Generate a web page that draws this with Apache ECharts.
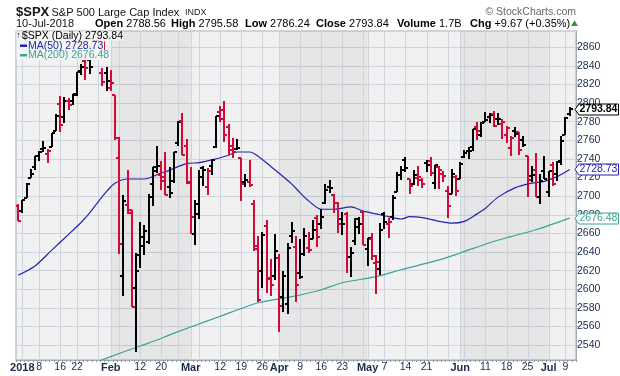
<!DOCTYPE html>
<html>
<head>
<meta charset="utf-8">
<script src="https://cdn.jsdelivr.net/npm/echarts@6/dist/echarts.min.js"></script>
<style>
  html, body { margin: 0; padding: 0; background: #fff; }
  #chart { width: 620px; height: 376px; }
</style>
</head>
<body>
<div id="chart"></div>
<script>
// 日线数据 $SPX 2017-12-29 ~ 2018-07-10
const dates = [
  '2017-12-29','2018-01-02','2018-01-03','2018-01-04','2018-01-05','2018-01-08','2018-01-09','2018-01-10','2018-01-11','2018-01-12',
  '2018-01-16','2018-01-17','2018-01-18','2018-01-19','2018-01-22','2018-01-23','2018-01-24','2018-01-25','2018-01-26','2018-01-29',
  '2018-01-30','2018-01-31','2018-02-01','2018-02-02','2018-02-05','2018-02-06','2018-02-07','2018-02-08','2018-02-09','2018-02-12',
  '2018-02-13','2018-02-14','2018-02-15','2018-02-16','2018-02-20','2018-02-21','2018-02-22','2018-02-23','2018-02-26','2018-02-27',
  '2018-02-28','2018-03-01','2018-03-02','2018-03-05','2018-03-06','2018-03-07','2018-03-08','2018-03-09','2018-03-12','2018-03-13',
  '2018-03-14','2018-03-15','2018-03-16','2018-03-19','2018-03-20','2018-03-21','2018-03-22','2018-03-23','2018-03-26','2018-03-27',
  '2018-03-28','2018-03-29','2018-04-02','2018-04-03','2018-04-04','2018-04-05','2018-04-06','2018-04-09','2018-04-10','2018-04-11',
  '2018-04-12','2018-04-13','2018-04-16','2018-04-17','2018-04-18','2018-04-19','2018-04-20','2018-04-23','2018-04-24','2018-04-25',
  '2018-04-26','2018-04-27','2018-04-30','2018-05-01','2018-05-02','2018-05-03','2018-05-04','2018-05-07','2018-05-08','2018-05-09',
  '2018-05-10','2018-05-11','2018-05-14','2018-05-15','2018-05-16','2018-05-17','2018-05-18','2018-05-21','2018-05-22','2018-05-23',
  '2018-05-24','2018-05-25','2018-05-29','2018-05-30','2018-05-31','2018-06-01','2018-06-04','2018-06-05','2018-06-06','2018-06-07',
  '2018-06-08','2018-06-11','2018-06-12','2018-06-13','2018-06-14','2018-06-15','2018-06-18','2018-06-19','2018-06-20','2018-06-21',
  '2018-06-22','2018-06-25','2018-06-26','2018-06-27','2018-06-28','2018-06-29','2018-07-02','2018-07-03','2018-07-05','2018-07-06',
  '2018-07-09','2018-07-10'
];
const opens = [
  2689.15,2683.73,2697.85,2719.31,2731.33,2742.67,2751.15,2745.55,2752.97,2770.18,
  2798.96,2784.99,2802.40,2802.60,2809.16,2835.05,2845.42,2846.24,2847.48,2867.23,
  2832.74,2832.41,2816.45,2808.92,2741.06,2614.78,2690.95,2685.01,2601.78,2636.75,
  2646.27,2651.21,2713.46,2727.14,2722.99,2720.53,2710.42,2715.80,2757.37,2780.45,
  2753.78,2715.22,2658.89,2681.06,2730.18,2710.18,2732.75,2752.91,2790.54,2792.31,
  2774.06,2754.27,2750.57,2741.38,2715.05,2714.99,2691.36,2646.71,2619.35,2667.57,
  2611.30,2614.41,2633.45,2592.17,2584.04,2657.36,2645.82,2617.18,2638.41,2643.89,
  2653.83,2676.90,2670.10,2692.74,2710.11,2701.16,2692.56,2675.40,2680.80,2634.92,
  2651.65,2675.47,2682.51,2642.96,2654.24,2628.08,2621.45,2680.34,2670.26,2678.12,
  2705.02,2722.70,2738.47,2718.59,2712.62,2719.71,2717.35,2735.39,2738.34,2713.98,
  2730.94,2723.60,2705.11,2702.43,2720.98,2718.70,2741.67,2748.46,2753.25,2774.84,
  2765.84,2780.18,2785.60,2787.94,2783.21,2777.78,2765.79,2752.01,2769.73,2769.28,
  2760.79,2742.94,2722.12,2728.45,2698.69,2727.13,2704.95,2733.27,2724.19,2737.68,
  2765.79,2788.56
];
const highs = [
  2692.12,2695.89,2714.37,2729.29,2743.45,2748.51,2759.14,2750.80,2767.56,2787.85,
  2807.54,2807.04,2805.83,2810.33,2833.03,2842.24,2852.97,2848.56,2872.87,2870.62,
  2837.75,2839.26,2835.96,2808.92,2763.39,2701.04,2727.67,2685.27,2638.67,2672.61,
  2668.84,2702.10,2731.51,2754.42,2737.60,2747.75,2731.26,2747.76,2780.64,2789.15,
  2761.52,2730.89,2696.25,2728.09,2732.08,2730.60,2740.45,2786.57,2796.98,2801.90,
  2777.11,2763.03,2761.85,2741.38,2724.22,2739.14,2695.68,2657.67,2661.36,2674.78,
  2632.65,2659.07,2638.30,2619.14,2649.86,2672.08,2656.88,2653.55,2665.45,2661.43,
  2674.72,2680.26,2686.49,2713.34,2717.49,2702.84,2693.94,2682.86,2683.55,2645.30,
  2676.48,2677.35,2682.87,2655.27,2660.87,2637.14,2670.93,2683.35,2676.34,2701.27,
  2726.11,2732.86,2742.10,2718.59,2727.76,2731.96,2719.50,2739.19,2742.24,2733.33,
  2731.97,2727.36,2710.67,2729.34,2722.50,2736.93,2749.16,2752.61,2772.39,2779.90,
  2779.39,2790.21,2789.80,2791.47,2789.06,2782.81,2774.99,2765.05,2774.86,2769.28,
  2764.17,2742.94,2732.91,2746.09,2724.34,2743.26,2727.26,2736.58,2737.83,2764.41,
  2784.65,2795.58
];
const lows = [
  2673.61,2682.36,2697.77,2719.07,2727.92,2737.60,2747.86,2736.06,2752.78,2769.64,
  2768.64,2778.38,2792.56,2798.08,2808.12,2830.59,2824.81,2830.94,2846.18,2851.48,
  2818.27,2813.04,2812.70,2759.97,2638.17,2593.07,2681.33,2580.56,2532.69,2622.45,
  2637.08,2648.87,2689.82,2725.11,2706.76,2701.29,2697.77,2713.74,2753.78,2744.22,
  2713.54,2659.65,2647.32,2675.75,2711.26,2701.74,2722.65,2751.54,2779.26,2758.68,
  2744.38,2741.47,2749.97,2694.59,2710.05,2709.79,2641.59,2585.89,2601.81,2596.12,
  2593.06,2609.72,2553.80,2575.49,2573.61,2649.58,2586.27,2610.79,2635.78,2639.25,
  2653.83,2645.05,2665.16,2692.05,2703.63,2681.90,2660.61,2657.99,2617.32,2612.67,
  2647.16,2659.01,2648.04,2625.41,2631.70,2594.62,2615.32,2664.70,2655.20,2674.14,
  2704.54,2717.45,2725.47,2701.91,2712.17,2711.36,2709.18,2725.70,2721.88,2707.38,
  2707.38,2714.99,2676.81,2702.43,2700.68,2718.70,2740.54,2739.51,2748.46,2760.16,
  2763.59,2780.17,2778.78,2774.65,2776.52,2761.73,2757.12,2743.19,2763.91,2744.39,
  2752.68,2698.67,2715.60,2699.38,2691.99,2718.03,2698.95,2711.16,2716.02,2733.52,
  2765.79,2786.24
];
const closes = [
  2673.61,2695.81,2713.06,2723.99,2743.15,2747.71,2751.29,2748.23,2767.56,2786.24,
  2776.42,2802.56,2798.03,2810.30,2832.97,2839.13,2837.54,2839.25,2872.87,2853.53,
  2822.43,2823.81,2821.98,2762.13,2648.94,2695.14,2681.66,2581.00,2619.55,2656.00,
  2662.94,2698.63,2731.20,2732.22,2716.26,2701.33,2703.96,2747.30,2779.60,2744.28,
  2713.83,2677.67,2691.25,2720.94,2728.12,2726.80,2738.97,2786.57,2783.02,2765.31,
  2749.48,2747.33,2752.01,2712.92,2716.94,2711.93,2643.69,2588.26,2658.55,2612.62,
  2605.00,2640.87,2581.88,2614.45,2644.69,2662.84,2604.47,2613.16,2656.87,2642.19,
  2663.99,2656.30,2677.84,2706.39,2708.64,2693.13,2670.14,2670.29,2634.56,2639.40,
  2666.94,2669.91,2648.05,2654.80,2635.67,2629.73,2663.42,2672.63,2671.92,2697.79,
  2723.07,2727.72,2730.13,2711.45,2722.46,2720.13,2712.97,2733.01,2724.44,2733.29,
  2727.76,2721.33,2689.86,2724.01,2705.27,2734.62,2746.87,2748.80,2772.35,2770.37,
  2779.03,2782.00,2786.85,2775.63,2782.49,2779.66,2773.75,2762.59,2767.32,2749.76,
  2754.88,2717.07,2723.06,2699.63,2716.31,2718.37,2726.71,2713.22,2736.61,2759.82,
  2784.17,2793.84
];
// 前一日收盘（2017-12-28），用于第一根K线的涨跌颜色
const prevClose0 = 2687.54;

// 均线 (按交易日序号读取)
const ma50Idx = [0, 4, 8, 12, 15, 17, 19, 21, 23, 26, 30, 34, 36, 40, 43, 46, 50, 52, 55, 57, 60, 65, 67, 69, 72, 75, 79, 82, 85, 88, 91, 93, 96, 100, 103, 106, 109, 111, 114, 118, 122, 125, 128, 131];
const ma50Val = [2615, 2625, 2642, 2659, 2672, 2682, 2694, 2705, 2714, 2718.5, 2718.5, 2725, 2728, 2735, 2736, 2739, 2744, 2747.5, 2747.5, 2743, 2732, 2713, 2703.5, 2695, 2686, 2686, 2688.5, 2684, 2681, 2678, 2675.5, 2678, 2677, 2673, 2671, 2673, 2681, 2687, 2699, 2709, 2714, 2716, 2721, 2728.73];
const ma200Idx = [19, 24, 29, 33, 36, 41, 48, 54, 57, 65, 69, 72, 77, 85, 91, 100, 105, 112, 117, 123, 131];
const ma200Val = [2522.5, 2531, 2539, 2545.5, 2551, 2559.5, 2571, 2581, 2585.5, 2592, 2596, 2599.5, 2607, 2613.5, 2621, 2631.5, 2639, 2650, 2656.5, 2664, 2676.48];

// x轴刻度
const tickDates = ['2018-01-02','2018-01-08','2018-01-16','2018-01-22','2018-02-01','2018-02-12','2018-02-20','2018-03-01','2018-03-12','2018-03-19','2018-03-26','2018-04-02','2018-04-09','2018-04-16','2018-04-23','2018-05-01','2018-05-07','2018-05-14','2018-05-21','2018-06-01','2018-06-11','2018-06-18','2018-06-25','2018-07-02','2018-07-09'];
const tickLabels = ['2018','8','16','22','Feb','12','20','Mar','12','19','26','Apr','9','16','23','May','7','14','21','Jun','11','18','25','Jul','9'];

const FONT = '"Liberation Sans", Arial, sans-serif';
const RED = '#d20a38';
const BLACK = '#000';
const BLUE = '#2424ac';
const TEAL = '#3aa393';
const AXIS_TXT = '#1b2a4a';

// 月份起点 / 周起点 -> 竖网格线
const dayOf = (s) => new Date(s + 'T00:00:00Z');
const monthStarts = [];
const gridIdx = [];
dates.forEach((d, i) => {
  if (i === 0) return;
  const cur = dayOf(d), prev = dayOf(dates[i - 1]);
  const newMonth = cur.getUTCMonth() !== prev.getUTCMonth();
  const newWeek = cur.getUTCDay() < prev.getUTCDay() || (cur - prev) / 864e5 >= 7;
  if (newMonth) monthStarts.push(i);
  if (newMonth || newWeek) gridIdx.push(i);
});
const darkMonths = [];
for (let k = 1; k + 1 < monthStarts.length; k += 2) darkMonths.push([monthStarts[k], monthStarts[k + 1]]);

const categories = dates.concat(['']);
const ohlc = dates.map((d, i) => [i, opens[i], highs[i], lows[i], closes[i]]);

const myChart = echarts.init(document.getElementById('chart'));

const option = {
  animation: false,
  backgroundColor: '#fff',
  grid: {
    left: 16, right: 44, top: 31, bottom: 16,
    show: true, backgroundColor: '#f1f1f1', borderColor: '#a3abb7', borderWidth: 1
  },
  xAxis: {
    type: 'category',
    data: categories,
    boundaryGap: true,
    axisLine: { show: true, lineStyle: { color: '#a3abb7' } },
    axisTick: { show: true, interval: 0, length: 2, lineStyle: { color: '#8f98a6' } },
    splitLine: { show: false },
    axisLabel: {
      interval: (index, value) => tickDates.includes(value),
      margin: 2,
      fontFamily: FONT,
      fontSize: 10.5,
      color: AXIS_TXT,
      formatter: (value) => {
        const k = tickDates.indexOf(value);
        if (k < 0) return '';
        const i = dates.indexOf(value);
        return monthStarts.includes(i) ? '{b|' + tickLabels[k] + '}' : tickLabels[k];
      },
      rich: { b: { fontWeight: 'bold', fontSize: 11, fontFamily: FONT, color: AXIS_TXT } }
    }
  },
  yAxis: {
    type: 'value',
    position: 'right',
    min: 2524,
    max: 2877.5,
    splitNumber: 18,
    minInterval: 20,
    maxInterval: 20,
    axisLine: { show: true, lineStyle: { color: '#a3abb7' } },
    axisTick: { show: true, length: 3, lineStyle: { color: '#a3abb7' } },
    splitLine: { show: true, lineStyle: { color: '#cdd4de', width: 1 } },
    axisLabel: {
      margin: 1, fontFamily: FONT, fontSize: 10.5, color: AXIS_TXT,
      showMinLabel: false, showMaxLabel: false,
      formatter: (v) => String(v)
    }
  },
  series: [
    {
      // 月份底色
      type: 'custom', z: 1, silent: true, clip: true,
      data: darkMonths,
      encode: { x: [0, 1] },
      renderItem: (params, api) => {
        const cs = params.coordSys;
        const x0 = api.coord([api.value(0), 2600])[0];
        const x1 = api.coord([api.value(1), 2600])[0];
        return { type: 'rect', shape: { x: x0, y: cs.y, width: x1 - x0, height: cs.height },
          style: { fill: 'rgba(0,0,0,0.045)' } };
      }
    },
    {
      // 竖网格线
      type: 'custom', z: 1, silent: true, clip: true,
      data: gridIdx.map(i => [i, 2600]),
      renderItem: (params, api) => {
        const cs = params.coordSys;
        const x = Math.round(api.coord([api.value(0), 2600])[0]) + 0.5;
        return { type: 'line', shape: { x1: x, y1: cs.y, x2: x, y2: cs.y + cs.height },
          style: { stroke: '#cdd4de', lineWidth: 1 } };
      }
    },
    {
      name: 'MA(200)', type: 'line', z: 3, silent: true,
      data: ma200Idx.map((i, k) => [i, ma200Val[k]]),
      showSymbol: false, symbol: 'none', smooth: 0.3,
      lineStyle: { color: TEAL, width: 1.2 }
    },
    {
      name: 'MA(50)', type: 'line', z: 3, silent: true,
      data: ma50Idx.map((i, k) => [i, ma50Val[k]]),
      showSymbol: false, symbol: 'none', smooth: 0.3,
      lineStyle: { color: BLUE, width: 1.2 }
    },
    {
      // OHLC 美国线
      type: 'custom', z: 4, silent: true, clip: true,
      data: ohlc,
      encode: { x: 0, y: [1, 2, 3, 4] },
      renderItem: (params, api) => {
        const i = api.value(0);
        const pH = api.coord([i, api.value(2)]);
        const x = Math.round(pH[0]);
        const yH = Math.round(pH[1]);
        const yL = Math.round(api.coord([i, api.value(3)])[1]);
        const yO = Math.round(api.coord([i, api.value(1)])[1]);
        const yC = Math.round(api.coord([i, api.value(4)])[1]);
        const prev = i > 0 ? closes[i - 1] : prevClose0;
        const col = closes[i] < prev ? RED : BLACK;
        const st = { stroke: col, lineWidth: 2 };
        return { type: 'group', children: [
          { type: 'line', shape: { x1: x, y1: yH, x2: x, y2: yL }, style: st },
          { type: 'line', shape: { x1: x - 3, y1: yO, x2: x, y2: yO }, style: st },
          { type: 'line', shape: { x1: x, y1: yC, x2: x + 3, y2: yC }, style: st }
        ] };
      }
    }
  ]
};
myChart.setOption(option);

// 标题、图例、价格标签
const txt = (x, y, text, font, fill, extra) => Object.assign({
  type: 'text', z: 100, silent: true,
  style: { x: x, y: y, text: text, font: font, fill: fill || '#000', align: 'left', verticalAlign: 'middle' }
}, extra || {});
const rich11 = { b: { fontWeight: 'bold', fontSize: 11, fontFamily: FONT, fill: '#000' } };
const richTxt = (x, y, text) => ({
  type: 'text', z: 100, silent: true,
  style: { x: x, y: y, text: text, font: '11px ' + FONT, fill: '#000', align: 'left', verticalAlign: 'middle', rich: rich11 }
});

const graphics = [
  txt(16, 12, '$SPX', 'bold 13px ' + FONT, '#111'),
  txt(51.5, 12.5, 'S&P 500 Large Cap Index', '11px ' + FONT, '#111'),
  txt(185, 13, 'INDX', '9px ' + FONT, '#222'),
  { type: 'text', z: 100, silent: true,
    style: { x: 576, y: 12.5, text: '© StockCharts.com', font: '10.5px ' + FONT, fill: '#666', align: 'right', verticalAlign: 'middle' } },
  txt(16, 23.5, '10-Jul-2018', '11px ' + FONT, '#111'),
  richTxt(95, 23.5, '{b|Open} 2788.56'),
  richTxt(171, 23.5, '{b|High} 2795.58'),
  richTxt(245, 23.5, '{b|Low} 2786.24'),
  richTxt(316, 23.5, '{b|Close} 2793.84'),
  richTxt(397, 23.5, '{b|Volume} 1.7B'),
  richTxt(470, 23.5, '{b|Chg} +9.67 (+0.35%)'),
  { type: 'polygon', z: 100, silent: true,
    shape: { points: [[571, 26], [574.5, 20.5], [578, 26]] }, style: { fill: '#1e9a3c' } },
  // 图例底板
  { type: 'rect', z: 90, silent: true, shape: { x: 16.5, y: 31.5, width: 107, height: 9 }, style: { fill: '#f4f4f4' } },
  { type: 'rect', z: 90, silent: true, shape: { x: 16.5, y: 40.5, width: 94, height: 19.5 }, style: { fill: '#f4f4f4' } },
  txt(16.5, 36, '↑↓', '8.5px ' + FONT, '#000'),
  txt(22, 36, '$SPX (Daily) 2793.84', '10.5px ' + FONT, '#000'),
  { type: 'rect', z: 100, silent: true, shape: { x: 20, y: 44.5, width: 7, height: 2.5 }, style: { fill: BLUE } },
  txt(28, 45.8, 'MA(50) 2728.73', '10.5px ' + FONT, BLUE),
  { type: 'line', z: 100, silent: true, shape: { x1: 104.5, y1: 41.5, x2: 104.5, y2: 50 }, style: { stroke: '#e0102a', lineWidth: 1 } },
  { type: 'rect', z: 100, silent: true, shape: { x: 20, y: 54, width: 7, height: 2.5 }, style: { fill: TEAL } },
  txt(28, 55.3, 'MA(200) 2676.48', '10.5px ' + FONT, TEAL)
];

// 右侧价格标签
const tags = [
  { value: closes[closes.length - 1], color: '#000', text: '2793.84', bold: true },
  { value: ma50Val[ma50Val.length - 1], color: BLUE, text: '2728.73', bold: false },
  { value: ma200Val[ma200Val.length - 1], color: TEAL, text: '2676.48', bold: false }
];
tags.forEach(t => {
  const y = Math.round(myChart.convertToPixel({ yAxisIndex: 0 }, t.value)) + 0.5;
  graphics.push({
    type: 'polygon', z: 100, silent: true,
    shape: { points: [[575, y], [579, y - 5.5], [618.5, y - 5.5], [618.5, y + 5.5], [579, y + 5.5]] },
    style: { fill: '#fff', stroke: t.color, lineWidth: 1 }
  });
  graphics.push(txt(579.5, y, t.text, (t.bold ? 'bold ' : '') + '10.5px ' + FONT, t.color));
});

myChart.setOption({ graphic: graphics });

window.addEventListener('resize', function () {
  myChart.resize();
});
</script>
</body>
</html>
